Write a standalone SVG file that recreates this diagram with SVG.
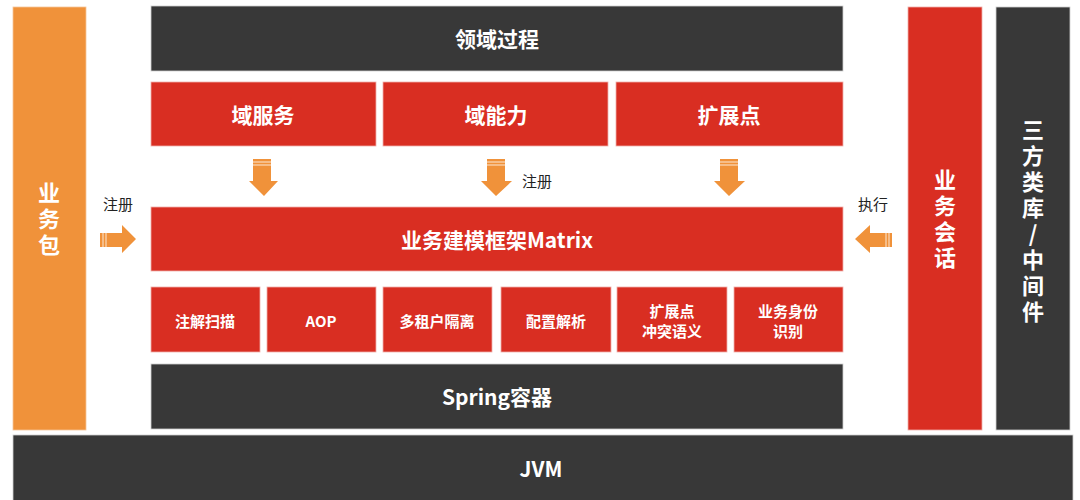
<svg xmlns="http://www.w3.org/2000/svg" width="1080" height="500" viewBox="0 0 1080 500">
<style>
.dk{fill:#383838;stroke:#d0d0d0;stroke-width:0.8}
.rd{fill:#d92e22;stroke:#f0b0aa;stroke-width:0.8}
.or{fill:#f0923a;stroke:#f6c59a;stroke-width:0.8}
.t{font-family:"Noto Sans CJK SC","Noto Sans",sans-serif;font-weight:bold;fill:#fff;text-anchor:middle;dominant-baseline:central}
.l{font-size:21px}
.s{font-size:15px}
.v{font-size:22px;writing-mode:vertical-rl;text-orientation:upright;letter-spacing:4px}
.lab{font-family:"Noto Sans CJK SC","Noto Sans",sans-serif;font-size:15px;fill:#222;text-anchor:middle;dominant-baseline:central}
.ar{fill:#f0923a}
.st{stroke:#fff;stroke-width:0.8}
</style>
<rect width="1080" height="500" fill="#fff"/>
<g id="biz-package"><rect class="or" x="13" y="7" width="73" height="423"/><text class="t v" x="49" y="221">业务包</text></g>
<g id="domain-process"><rect class="dk" x="151" y="6" width="692" height="65"/><text class="t l" x="497" y="38">领域过程</text></g>
<g id="domain-service"><rect class="rd" x="151" y="82" width="225" height="64"/><text class="t l" x="263" y="114">域服务</text></g>
<g id="domain-ability"><rect class="rd" x="383" y="82" width="225" height="64"/><text class="t l" x="496" y="114">域能力</text></g>
<g id="extension-point"><rect class="rd" x="616" y="82" width="227" height="64"/><text class="t l" x="729" y="114">扩展点</text></g>
<g id="matrix"><rect class="rd" x="151" y="207" width="692" height="64"/><text class="t l" x="497" y="239">业务建模框架Matrix</text></g>
<g id="annotation-scan"><rect class="rd" x="151" y="287" width="109" height="65"/><text class="t s" x="205" y="320">注解扫描</text></g>
<g id="aop"><rect class="rd" x="267" y="287" width="109" height="65"/><text class="t s" x="321" y="320">AOP</text></g>
<g id="multi-tenant"><rect class="rd" x="383" y="287" width="109" height="65"/><text class="t s" x="437" y="320">多租户隔离</text></g>
<g id="config-parse"><rect class="rd" x="501" y="287" width="110" height="65"/><text class="t s" x="556" y="320">配置解析</text></g>
<g id="ext-conflict"><rect class="rd" x="617" y="287" width="110" height="65"/><text class="t s" x="672" y="310"><tspan x="672" y="310">扩展点</tspan><tspan x="672" y="330">冲突语义</tspan></text></g>
<g id="biz-identity"><rect class="rd" x="734" y="287" width="109" height="65"/><text class="t s" x="788" y="310"><tspan x="788" y="310">业务身份</tspan><tspan x="788" y="330">识别</tspan></text></g>
<g id="spring"><rect class="dk" x="151" y="364" width="692" height="65"/><text class="t l" x="497" y="396">Spring容器</text></g>
<g id="biz-session"><rect class="rd" x="908" y="7" width="74" height="423"/><text class="t v" x="945" y="221">业务会话</text></g>
<g id="third-party"><rect class="dk" x="996" y="7" width="74" height="423"/><text class="t v" x="1033" y="223">三方类库/中间件</text></g>
<g id="jvm"><rect class="dk" x="13" y="435" width="1060" height="70"/><text class="t l" x="541" y="468" font-family="'Open Sans',sans-serif">JVM</text></g>
<g id="connectors">
<g id="a1"><path class="ar" d="M253,159H271V181H278L264,196L249,181H253Z"/><line class="st" x1="253" y1="162" x2="271" y2="162"/><line class="st" x1="253" y1="165" x2="271" y2="165"/></g>
<g id="a2"><path class="ar" d="M487,159H505V181H512L496,196L481,181H487Z"/><line class="st" x1="487" y1="162" x2="505" y2="162"/><line class="st" x1="487" y1="165" x2="505" y2="165"/></g>
<g id="a3"><path class="ar" d="M720,159H738V181H745L729,196L714,181H720Z"/><line class="st" x1="720" y1="162" x2="738" y2="162"/><line class="st" x1="720" y1="165" x2="738" y2="165"/></g>
<g id="a4"><path class="ar" d="M100,233H122V225L136,239L122,253V247H100Z"/><line class="st" x1="103" y1="233" x2="103" y2="247"/><line class="st" x1="106" y1="233" x2="106" y2="247"/></g>
<g id="a5"><path class="ar" d="M892,233H870V225L855,239L870,253V247H892Z"/><line class="st" x1="889" y1="233" x2="889" y2="247"/><line class="st" x1="886" y1="233" x2="886" y2="247"/></g>
<text class="lab" x="118" y="203">注册</text>
<text class="lab" x="537" y="180">注册</text>
<text class="lab" x="873" y="203">执行</text>
</g>
</svg>
